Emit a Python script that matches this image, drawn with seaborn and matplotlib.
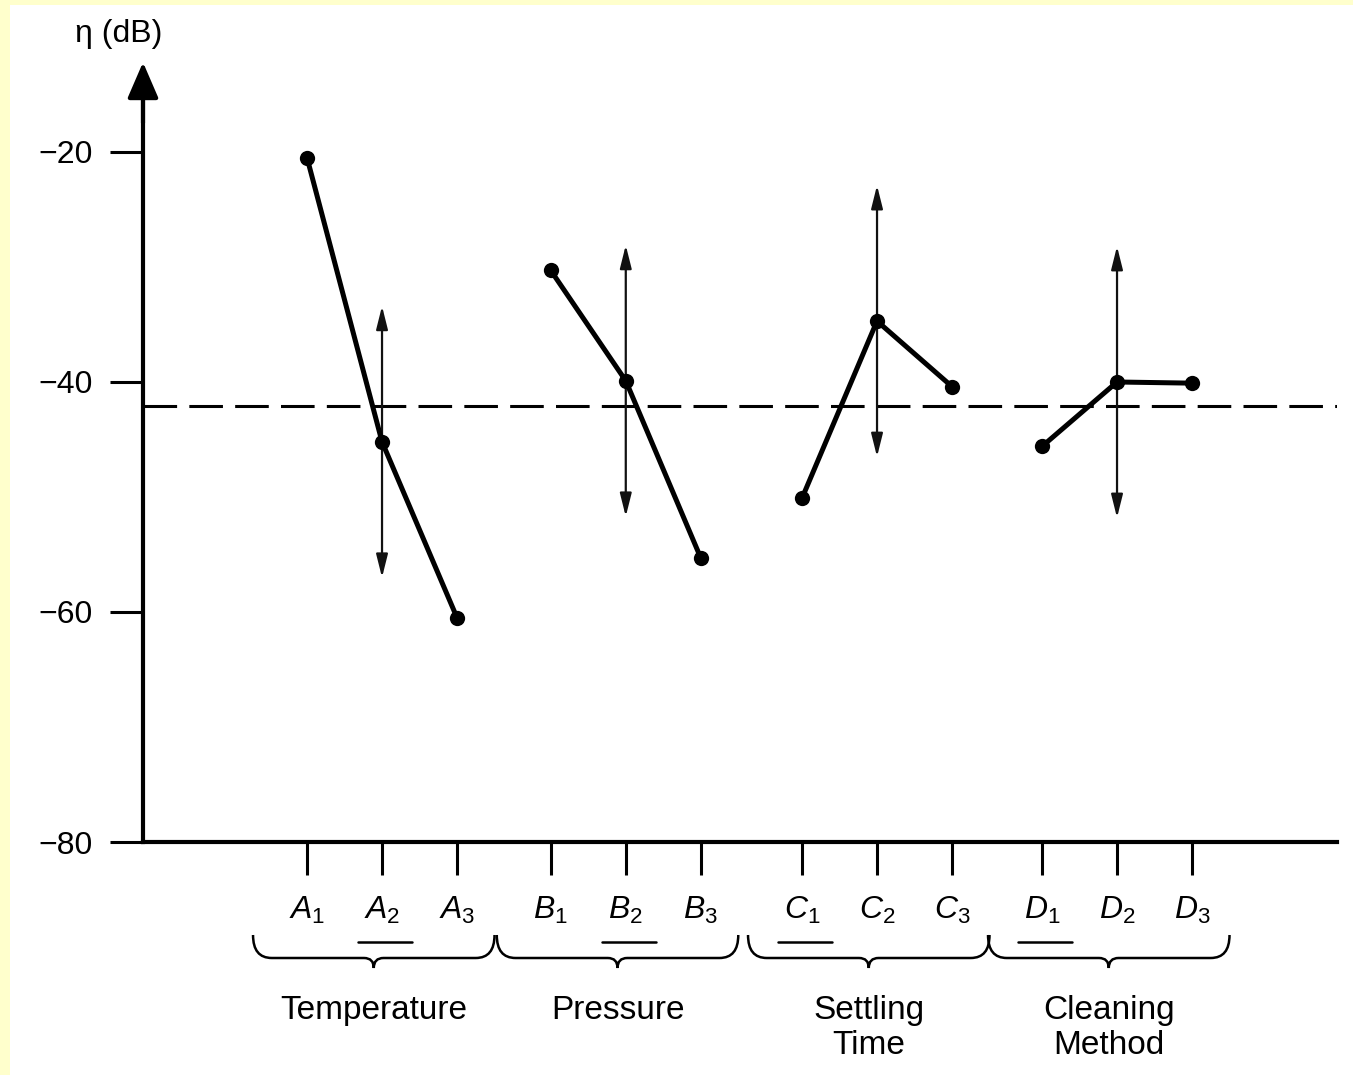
import numpy as np
import pandas as pd
import seaborn as sns
import matplotlib.pyplot as plt
from matplotlib.path import Path
from matplotlib.patches import PathPatch, Rectangle
import matplotlib.transforms as mtransforms

# factor effects on the S/N ratio eta (dB)
factor_letters = ["A", "B", "C", "D"]
factor_names = ["Temperature", "Pressure", "Settling\nTime", "Cleaning\nMethod"]
eta_A = [-20.5, -45.2, -60.5]
eta_B = [-30.3, -39.9, -55.3]
eta_C = [-50.1, -34.7, -40.4]
eta_D = [-45.6, -40.0, -40.1]
optimum_level = [2, 2, 1, 1]      # underlined levels
overall_mean = -42.1              # dashed line
ci_half = 11.8                    # +/- range of the arrows at level 2
y_ticks = [-20, -40, -60, -80]

# layout (not data)
group_start = [0.0, 3.25, 6.6, 9.8]

sns.set_theme(style="ticks")
plt.rcParams["font.family"] = ["Liberation Sans", "DejaVu Sans"]
plt.rcParams["mathtext.fontset"] = "custom"
plt.rcParams["mathtext.it"] = "Liberation Sans:italic"
plt.rcParams["mathtext.rm"] = "Liberation Sans"
plt.rcParams["text.color"] = "black"

rows = []
for g, (f, vals) in enumerate(zip(factor_letters, [eta_A, eta_B, eta_C, eta_D])):
    for i, v in enumerate(vals):
        rows.append({"factor": f, "level": i + 1, "pos": group_start[g] + i, "eta": v})
df = pd.DataFrame(rows)

W, H = 1353, 1075
fig = plt.figure(figsize=(W / 100, H / 100), dpi=100)
fig.patch.set_facecolor("#ffffcc")
fig.patches.append(Rectangle((10 / W, 0), 1, 1 - 5 / H, transform=fig.transFigure,
                             facecolor="white", edgecolor="none", zorder=-10))

ax = fig.add_axes([143 / W, 233 / H, (1337 - 143) / W, 749 / H])
ax.set_facecolor("white")

ax.axhline(overall_mean, color="black", lw=2.2, ls=(0, (11, 4)), zorder=1)

sns.lineplot(data=df, x="pos", y="eta", hue="factor",
             palette={f: "black" for f in factor_letters},
             marker="o", markersize=11, markeredgewidth=0, linewidth=3.6,
             estimator=None, sort=False, legend=False, ax=ax, zorder=3)

# +/- arrows at the middle level of each factor
for g, f in enumerate(factor_letters):
    sub = df[(df.factor == f) & (df.level == 2)].iloc[0]
    ax.annotate("", xy=(sub.pos, sub.eta + ci_half), xytext=(sub.pos, sub.eta - ci_half),
                arrowprops=dict(arrowstyle="<|-|>,head_length=1.4,head_width=0.35",
                                mutation_scale=10, lw=1.6, color="#111111",
                                shrinkA=0, shrinkB=0), zorder=2)

ax.set_xlim(-2.187, 13.733)
ax.set_ylim(-80, -14.87)

for s in ["top", "right"]:
    ax.spines[s].set_visible(False)
for s in ["left", "bottom"]:
    ax.spines[s].set_linewidth(3)
    ax.spines[s].set_color("black")

ax.set_yticks(y_ticks)
ax.set_yticklabels([f"\u2212{abs(t)}" for t in y_ticks])
ax.tick_params(axis="y", length=24, width=2.2, direction="out", pad=12, labelsize=23,
               colors="black")

ax.set_xticks(df.pos)
ax.set_xticklabels([f"${f}_{l}$" for f, l in zip(df.factor, df.level)])
ax.tick_params(axis="x", length=24, width=2.2, direction="out", pad=14, labelsize=23,
               colors="black")
ax.set_xlabel("")
ax.set_ylabel("")

# arrow head on top of the y axis
ax.annotate("", xy=(0, 1.041), xytext=(0, 0.96), xycoords="axes fraction",
            arrowprops=dict(arrowstyle="-|>,head_length=2.2,head_width=0.95",
                            mutation_scale=10, lw=3, color="black",
                            shrinkA=0, shrinkB=0), annotation_clip=False)

fig.text(75 / W, 1 - 42 / H, "\u03b7 (dB)", ha="left", va="baseline", fontsize=23,
         color="black")

trans = mtransforms.blended_transform_factory(ax.transData, ax.transAxes)
px = 1 / 749.0
y_top, y_mid, y_tip = -93 * px, -116 * px, -126 * px
y_ul = -100 * px
for g, name in enumerate(factor_names):
    x0 = group_start[g] - 0.72
    x1 = group_start[g] + 2.5
    xc = (x0 + x1) / 2
    rx, tx = 0.25, 0.13
    verts = [(x0, y_top), (x0, y_mid), (x0 + rx, y_mid), (xc - tx, y_mid),
             (xc, y_mid), (xc, y_tip), (xc, y_mid), (xc + tx, y_mid),
             (x1 - rx, y_mid), (x1, y_mid), (x1, y_top)]
    codes = [Path.MOVETO, Path.CURVE3, Path.CURVE3, Path.LINETO,
             Path.CURVE3, Path.CURVE3, Path.CURVE3, Path.CURVE3,
             Path.LINETO, Path.CURVE3, Path.CURVE3]
    ax.add_patch(PathPatch(Path(verts, codes), transform=trans, fill=False,
                           lw=1.8, edgecolor="black", clip_on=False))
    ax.text(xc, -153 * px, name, transform=trans, ha="center", va="top",
            fontsize=24, linespacing=1.15, multialignment="center", color="black")
    # underline the chosen level
    xo = group_start[g] + optimum_level[g] - 1 + 0.04
    ax.plot([xo - 0.36, xo + 0.36], [y_ul, y_ul], transform=trans, color="black",
            lw=1.8, clip_on=False)

fig.savefig("out.png", dpi=100, facecolor=fig.get_facecolor())
